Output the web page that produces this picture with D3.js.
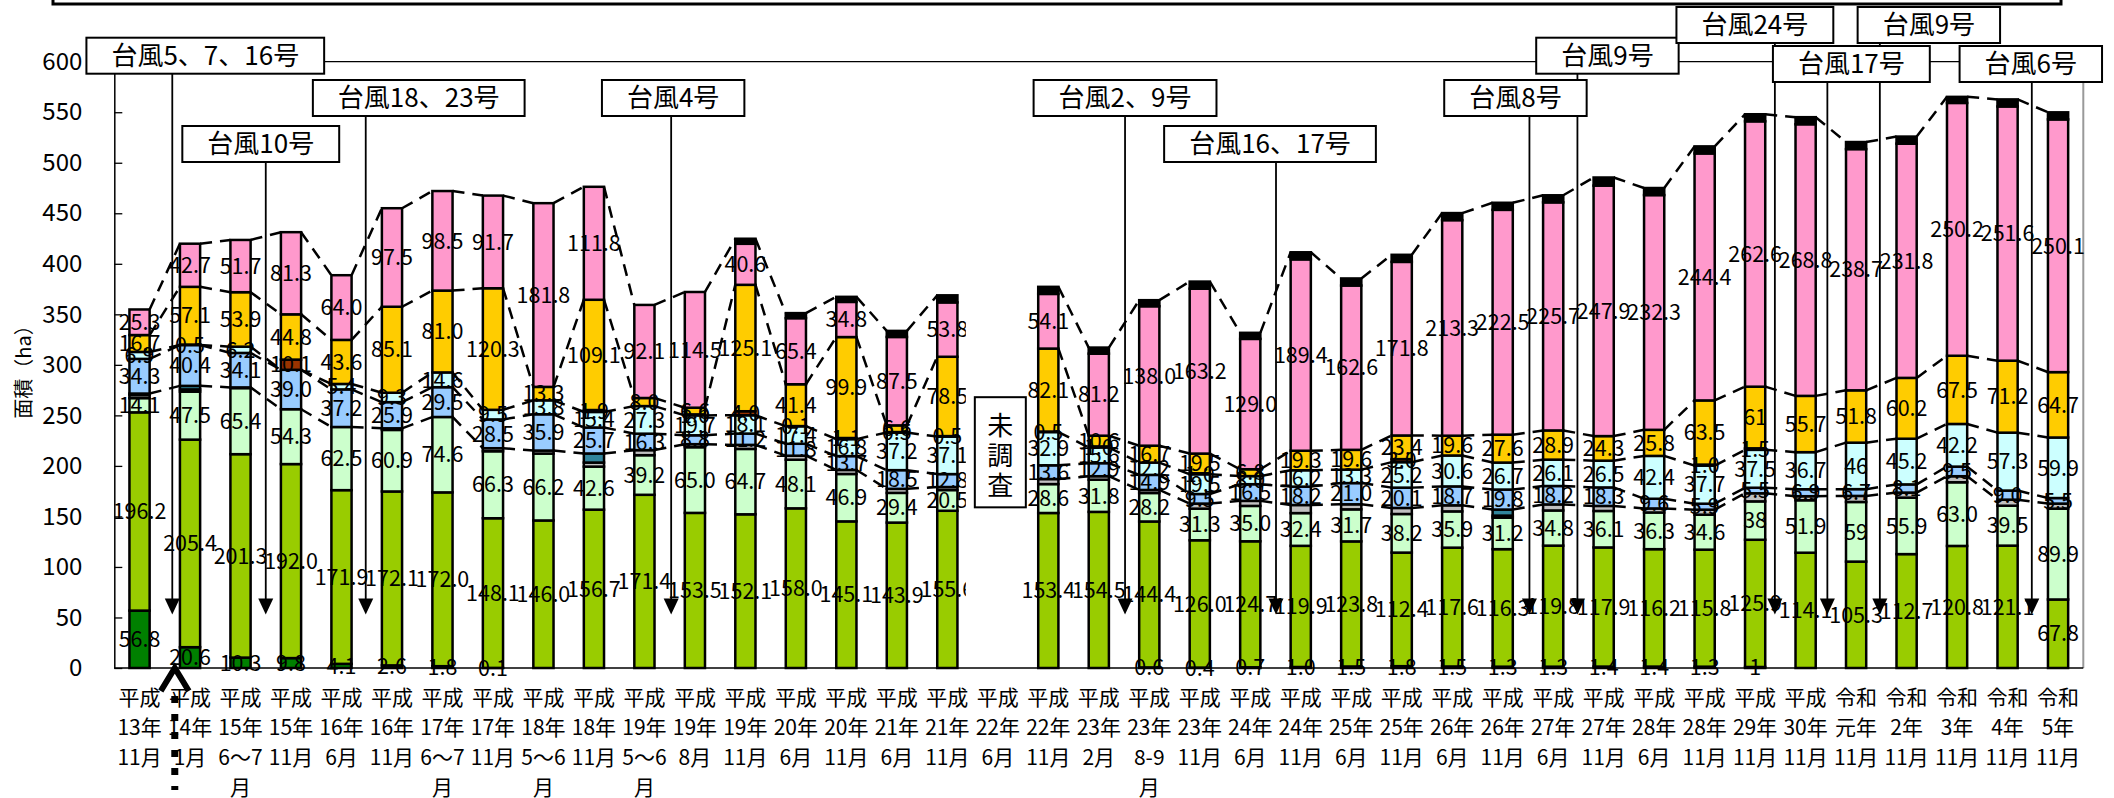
<!DOCTYPE html>
<html><head><meta charset="utf-8">
<script src="https://cdn.jsdelivr.net/npm/d3@7"></script>
<style>body{margin:0;background:#fff}svg{display:block}text{font-family:"Noto Sans CJK JP","Noto Sans",sans-serif}</style>
</head><body>
<svg id="chart" width="2114" height="798"></svg>
<script>
// ---------------- data ----------------
const categories = ["平成|13年|11月","平成|14年|1月","平成|15年|6〜7|月","平成|15年|11月","平成|16年|6月","平成|16年|11月","平成|17年|6〜7|月","平成|17年|11月","平成|18年|5〜6|月","平成|18年|11月","平成|19年|5〜6|月","平成|19年|8月","平成|19年|11月","平成|20年|6月","平成|20年|11月","平成|21年|6月","平成|21年|11月","平成|22年|6月","平成|22年|11月","平成|23年|2月","平成|23年|8-9|月","平成|23年|11月","平成|24年|6月","平成|24年|11月","平成|25年|6月","平成|25年|11月","平成|26年|6月","平成|26年|11月","平成|27年|6月","平成|27年|11月","平成|28年|6月","平成|28年|11月","平成|29年|11月","平成|30年|11月","令和|元年|11月","令和|2年|11月","令和|3年|11月","令和|4年|11月","令和|5年|11月"];

const darkGreen   = [56.8,20.6,10.3,9.8,4.1,2.6,1.8,0.1,0,0,0,0,0,0,0,0,0,null,0,0,0.6,0.4,0.7,1.0,1.5,1.8,1.5,1.3,1.3,1.4,1.4,1.3,1,0,0,0,0,0,0];
const yellowGreen = [196.2,205.4,201.3,192.0,171.9,172.1,172.0,148.1,146.0,156.7,171.4,153.5,152.1,158.0,145.1,143.9,155.6,null,153.4,154.5,144.4,126.0,124.7,119.9,123.8,112.4,117.6,116.3,119.8,117.9,116.2,115.8,125.9,114.1,105.3,112.7,120.8,121.1,67.8];
const paleGreen   = [14.1,47.5,65.4,54.3,62.5,60.9,74.6,66.3,66.2,42.6,39.2,65.0,64.7,48.1,46.9,29.4,20.5,null,28.6,31.8,28.2,31.3,35.0,32.4,31.7,38.2,35.9,31.2,34.8,36.1,36.3,34.6,38,51.9,59,55.9,63.0,39.5,89.9];
const gray        = [3,2.2,0.7,0,0,1.6,0,3,3,4,5,3,4,4,4,4,3,null,5,3.5,3,5,5,8,5,6,6,2,6,5,4,5,8,4,6,5,6,6,5];
const teal        = [1.5,3.5,0,0,0,0,0,0,0,9,0,0,0,0,0,0,0,null,0,0,0,0,0,0,0,0,0,6,0,0,0,0,0,0,0,0,0,0,0];
const blue        = [34.3,40.4,34.1,39.0,37.2,25.9,29.5,28.5,35.9,25.7,16.3,8.8,11.2,11.8,13.7,18.5,12.8,null,13.6,12.9,14.9,9.5,16.5,18.2,21.0,20.1,18.7,19.8,18.2,18.3,9.6,5.9,5.5,6.9,6.7,8.1,9.5,9.0,5.5];
const cyan        = [6.9,0,6.2,0,5.4,9.3,14.6,9.5,13.8,15.4,27.3,19.7,18.1,17.4,16.8,37.2,37.1,null,32.9,15.6,12.2,19.5,8.0,16.2,13.3,25.2,30.6,26.7,26.1,26.5,42.4,37.7,37.5,36.7,46,45.2,42.2,57.3,59.9];
const brown       = [0,0.5,0,10.1,0,0,0,0,0,1.9,0,1.0,4.0,0.1,1.1,0.5,0.5,null,0.5,1.0,0,1.0,0,0,0,3.0,0,0,0,0,0,1.0,1.5,0,0,0,0,0,0];
const gold        = [16.7,57.1,53.9,44.8,43.6,85.1,81.0,120.3,13.3,109.1,8.0,6.6,125.1,41.4,99.9,6.6,78.5,null,82.1,10.6,16.7,19.5,6.8,19.3,19.6,23.4,19.6,27.6,28.9,24.3,25.8,63.5,61,55.7,51.8,60.2,67.5,71.2,64.7];
const pink        = [25.3,42.7,51.7,81.3,64.0,97.5,98.5,91.7,181.8,111.8,92.1,114.5,40.6,65.4,34.8,87.5,53.8,null,54.1,81.2,138.0,163.2,129.0,189.4,162.6,171.8,213.3,222.5,225.7,247.9,232.3,244.4,262.6,268.8,238.7,231.8,250.2,251.6,250.1];
const black       = [0,0,0,0,0,0,0,0,0,0,0,0,5,5,5,6,7,null,7,6,6,7,6,7,7,7,7,7,7,8,7,7,7,7,7,7,6,7,7];

// labels shown in "general" format (no decimal)
const integerLabels = [["darkGreen",32],["paleGreen",32],["gold",32],["paleGreen",34],["cyan",34]];

const yTicks = [0,50,100,150,200,250,300,350,400,450,500,550,600];

const typhoons = [
  {name:"台風5、7、16号", at:1,  dx:7.5,  row:"A", boxDx:33},
  {name:"台風10号",       at:3,  dx:0,    row:"C", boxDx:-5},
  {name:"台風18、23号",   at:5,  dx:-1,   row:"B", boxDx:53},
  {name:"台風4号",        at:11, dx:1.5,  row:"B", boxDx:2},
  {name:"台風2、9号",     at:20, dx:1,    row:"B", boxDx:0},
  {name:"台風16、17号",   at:23, dx:0.5,  row:"C", boxDx:-6},
  {name:"台風8号",        at:28, dx:1.5,  row:"B", boxDx:-14},
  {name:"台風9号",        at:29, dx:-1,   row:"A", boxDx:30},
  {name:"台風24号",       at:33, dx:-5.5, row:"T", boxDx:-20},
  {name:"台風9号",        at:35, dx:-1.5, row:"T", boxDx:49},
  {name:"台風17号",       at:34, dx:-3.5, row:"U", boxDx:24},
  {name:"台風6号",        at:38, dx:-1,   row:"U", boxDx:-1}
];

// ---------------- setup ----------------
const series = [
  {key:"darkGreen",   values:darkGreen,   color:"#008000", label:true,  connector:false},
  {key:"yellowGreen", values:yellowGreen, color:"#99cc00", label:true,  connector:false},
  {key:"paleGreen",   values:paleGreen,   color:"#ccffcc", label:true,  connector:false},
  {key:"gray",        values:gray,        color:"#c0c0c0", label:false, connector:false},
  {key:"teal",        values:teal,        color:"#31859c", label:false, connector:true},
  {key:"blue",        values:blue,        color:"#99ccff", label:true,  connector:true},
  {key:"cyan",        values:cyan,        color:"#ccffff", label:true,  connector:true},
  {key:"brown",       values:brown,       color:"#993300", label:true,  connector:false},
  {key:"gold",        values:gold,        color:"#ffcc00", label:true,  connector:true},
  {key:"pink",        values:pink,        color:"#ff99cc", label:true,  connector:false},
  {key:"black",       values:black,       color:"#000000", label:false, connector:true}
];

const svg = d3.select("#chart");
const plot = {left:114.3, right:2083.3, top:61.7, bottom:668};

const x = d3.scaleBand().domain(d3.range(categories.length))
  .range([plot.left, plot.right]).paddingInner(0.6).paddingOuter(0.3);
const y = d3.scaleLinear().domain([0,600]).range([plot.bottom, plot.top]);
const bw = x.bandwidth();

const rows = categories.map((c,i)=>{
  const r = {i, missing: series.every(s=>s.values[i]==null)};
  series.forEach(s=>{ r[s.key] = s.values[i]==null ? 0 : s.values[i]; });
  return r;
});
const stacked = d3.stack().keys(series.map(s=>s.key))(rows);

// title frame (cut off at top)
svg.append("rect").attr("x",53).attr("y",-30).attr("width",2008).attr("height",34)
  .attr("fill","none").attr("stroke","#000").attr("stroke-width",3);

// plot borders
svg.append("line").attr("x1",plot.left).attr("x2",plot.right).attr("y1",plot.top).attr("y2",plot.top)
  .attr("stroke","#000").attr("stroke-width",1.3);
svg.append("line").attr("x1",plot.right).attr("x2",plot.right).attr("y1",plot.top).attr("y2",plot.bottom)
  .attr("stroke","#999").attr("stroke-width",2);

// y axis
const yAxis = d3.axisLeft(y).tickValues(yTicks).tickSizeInner(-8).tickSizeOuter(0).tickPadding(32);
const gy = svg.append("g").attr("transform",`translate(${plot.left},0)`).call(yAxis);
gy.select(".domain").attr("stroke","#000").attr("stroke-width",1.5);
gy.selectAll(".tick line").attr("stroke","#000").attr("stroke-width",1.3);
gy.selectAll(".tick text").attr("font-size",24).attr("fill","#000")
  .attr("font-family",'"Noto Sans CJK JP",sans-serif');

svg.append("text").attr("transform",`translate(24,367) rotate(-90)`)
  .attr("text-anchor","middle").attr("dy","0.35em").attr("font-size",20).text("面積（ha）");

// bars
const gBars = svg.append("g");
stacked.forEach((layer,k)=>{
  gBars.selectAll(null).data(layer.filter(d=>!d.data.missing && d[1]-d[0]>0)).enter()
    .append("rect")
    .attr("x",d=>x(d.data.i)).attr("width",bw)
    .attr("y",d=>y(d[1])).attr("height",d=>y(d[0])-y(d[1]))
    .attr("fill",series[k].color).attr("stroke","#000").attr("stroke-width",2.5);
});

// series lines (dashed connectors between adjacent bars)
const gLines = svg.append("g");
stacked.forEach((layer,k)=>{
  if(!series[k].connector) return;
  for(let i=0;i<layer.length-1;i++){
    const a=layer[i], b=layer[i+1];
    if(a.data.missing||b.data.missing) continue;
    gLines.append("line")
      .attr("x1",x(i)+bw).attr("y1",y(a[1]))
      .attr("x2",x(i+1)).attr("y2",y(b[1]))
      .attr("stroke","#000").attr("stroke-width",2.5).attr("stroke-dasharray","12,8");
  }
});

// x axis line
svg.append("line").attr("x1",plot.left).attr("x2",plot.right).attr("y1",plot.bottom).attr("y2",plot.bottom)
  .attr("stroke","#000").attr("stroke-width",1.5);

// data labels
const intSet = new Set(integerLabels.map(p=>p[0]+"-"+p[1]));
const gLab = svg.append("g");
stacked.forEach((layer,k)=>{
  if(!series[k].label) return;
  layer.forEach(d=>{
    const v = d[1]-d[0];
    if(d.data.missing || !(v>0)) return;
    const txt = intSet.has(series[k].key+"-"+d.data.i) ? String(Math.round(v)) : series[k].values[d.data.i].toFixed(1);
    gLab.append("text").attr("x",x(d.data.i)+bw/2).attr("y",(y(d[0])+y(d[1]))/2)
      .attr("dy","0.36em").attr("text-anchor","middle").attr("font-size",21.5).attr("fill","#000").text(txt);
  });
});

// category labels
const gX = svg.append("g");
categories.forEach((c,i)=>{
  c.split("|").forEach((line,j)=>{
    gX.append("text").attr("x",x(i)+bw/2).attr("y",plot.bottom+29+j*30.2)
      .attr("dy","0.36em").attr("text-anchor","middle").attr("font-size",21).text(line);
  });
});

// "未調査" area (right chart overlay clips left labels)
const missIdx = rows.findIndex(r=>r.missing);
const mcx = x(missIdx)+bw/2;
svg.append("rect").attr("x",mcx-32).attr("y",plot.top+3).attr("width",9).attr("height",plot.bottom-plot.top-8)
  .attr("fill","#fff");
svg.append("rect").attr("x",mcx-23).attr("y",y(268)).attr("width",51).attr("height",y(159)-y(268))
  .attr("fill","#fff").attr("stroke","#000").attr("stroke-width",2);
["未","調","査"].forEach((ch,j)=>{
  svg.append("text").attr("x",mcx+2.5).attr("y",y(268)+28+j*30).attr("dy","0.36em")
    .attr("text-anchor","middle").attr("font-size",26).text(ch);
});

// typhoon annotations
const boxRows = {T:7, A:37.7, U:46, B:80, C:126};
const boxH = 36;
const tipY = y(53);
const gAnn = svg.append("g");
const boundary = i => x(i) - x.step()*x.paddingInner()/2;
typhoons.forEach(t=>{
  const ax = boundary(t.at)+t.dx;
  gAnn.append("line").attr("x1",ax).attr("x2",ax).attr("y1",boxRows[t.row]+boxH).attr("y2",tipY-12)
    .attr("stroke","#000").attr("stroke-width",1.8);
  gAnn.append("path").attr("d",`M${ax-7.5},${tipY-16}L${ax+7.5},${tipY-16}L${ax},${tipY}Z`).attr("fill","#000");
});
typhoons.forEach(t=>{
  const ax = boundary(t.at)+t.dx;
  const cx = ax + t.boxDx;
  const g = gAnn.append("g");
  const rect = g.append("rect");
  const txt = g.append("text").attr("x",cx).attr("y",boxRows[t.row]+boxH/2).attr("dy","0.36em")
    .attr("text-anchor","middle").attr("font-size",26).text(t.name);
  const w = txt.node().getComputedTextLength()+50;
  rect.attr("x",cx-w/2).attr("y",boxRows[t.row]).attr("width",w).attr("height",boxH)
    .attr("fill","#fff").attr("stroke","#000").attr("stroke-width",2);
});

// upward dashed marker
const ux = boundary(1)+10;
svg.append("path").attr("d",`M${ux-14},${y(0)+23}L${ux},${y(0)}L${ux+14},${y(0)+23}`)
  .attr("fill","none").attr("stroke","#000").attr("stroke-width",6).attr("stroke-linejoin","miter");
svg.append("line").attr("x1",ux).attr("x2",ux).attr("y1",y(0)+28).attr("y2",790)
  .attr("stroke","#000").attr("stroke-width",7).attr("stroke-dasharray","7,11");
</script>
</body></html>
